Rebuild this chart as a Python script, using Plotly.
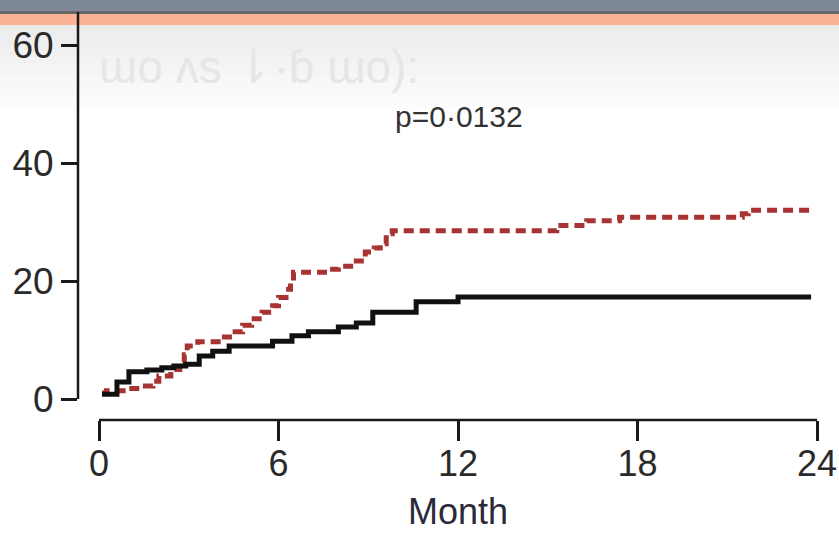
import plotly.graph_objects as go

# ---- data ----
black_month = [0.1, 0.6, 1.0, 1.6, 2.1, 2.5, 2.9, 3.35, 3.8, 4.35, 5.8, 6.45, 7.0, 8.0, 8.6, 9.15, 10.6, 12.0, 23.8]
black_pct = [0.8, 2.9, 4.6, 4.9, 5.3, 5.6, 5.9, 7.3, 8.1, 9.0, 9.8, 10.7, 11.4, 12.2, 12.9, 14.7, 16.5, 17.3, 17.3]

red_month = [0.1, 0.25, 0.9, 1.45, 1.8, 2.0, 2.4, 2.7, 2.85, 2.95, 3.3, 4.1, 4.45, 4.8, 5.1, 5.45, 5.8, 6.0,
             6.25, 6.4, 6.5, 7.7, 8.0, 8.5, 8.9, 9.2, 9.4, 9.6, 9.8, 15.3, 16.3, 17.4, 21.5, 21.7, 23.9]
red_pct = [1.0, 1.4, 1.8, 2.2, 3.0, 3.9, 5.0, 6.3, 7.5, 9.0, 9.7, 10.5, 11.4, 12.5, 13.6, 14.7, 15.8, 17.2,
           18.6, 20.0, 21.5, 22.0, 22.5, 23.4, 24.9, 25.6, 26.3, 28.0, 28.5, 29.4, 30.2, 30.8, 31.4, 32.0, 32.0]

x_ticks = [0, 6, 12, 18, 24]
y_ticks = [0, 20, 40, 60]
p_text = "p=0\u00b70132"
x_title = "Month"
ghost_text = "\u026fo \u028cs \u21c2\u00b7\u0253 \u026fo):"

W, H = 839, 536
L, R, T, B = 78, 14, 12, 116
plot_h = H - T - B


def py(p):
    return (H - B - p) / plot_h


font_fam = "Liberation Sans, Arial, sans-serif"

fig = go.Figure()
fig.add_trace(go.Scatter(x=red_month, y=red_pct, mode="lines", line_shape="hv",
                         line=dict(color="#a83333", width=5, dash="10px,6px"), hoverinfo="skip"))
fig.add_trace(go.Scatter(x=black_month, y=black_pct, mode="lines", line_shape="hv",
                         line=dict(color="#111111", width=5), hoverinfo="skip"))

shapes = []
# header gradient (light gray fading to white)
n = 14
top_px, bot_px = 25, 115
for i in range(n):
    p0 = top_px + (bot_px - top_px) * i / n
    p1 = top_px + (bot_px - top_px) * (i + 1) / n
    op = 0.9 * (1 - i / n)
    shapes.append(dict(type="rect", xref="paper", yref="paper", x0=-0.2, x1=1.2, y0=py(p1), y1=py(p0),
                       fillcolor="#e9e9e9", opacity=op, line=dict(width=0), layer="below"))
# dark top bar
shapes.append(dict(type="rect", xref="paper", yref="paper", x0=-0.2, x1=1.2, y0=py(11), y1=py(-5),
                   fillcolor="#7f8897", line=dict(width=0), layer="below"))
shapes.append(dict(type="rect", xref="paper", yref="paper", x0=-0.2, x1=1.2, y0=py(14), y1=py(11),
                   fillcolor="#66676b", line=dict(width=0), layer="below"))
# orange band
shapes.append(dict(type="rect", xref="paper", yref="paper", x0=-0.2, x1=1.2, y0=py(25), y1=py(14),
                   fillcolor="#fcb295", line=dict(width=0), layer="below"))
# y axis line
shapes.append(dict(type="line", xref="paper", yref="y", x0=0, x1=0, y0=0, y1=80,
                   line=dict(color="#1a1a1a", width=2.5)))
# x axis line
shapes.append(dict(type="line", xref="x", yref="paper", x0=0, x1=24, y0=0, y1=0,
                   line=dict(color="#1a1a1a", width=2.5)))

fig.update_layout(
    width=W, height=H,
    margin=dict(l=L, r=R, t=T, b=B, autoexpand=False),
    paper_bgcolor="white", plot_bgcolor="rgba(0,0,0,0)",
    showlegend=False,
    shapes=shapes,
    xaxis=dict(range=[-21 / 29.92, (W - R - 99) / 29.92], tickvals=x_ticks, ticktext=[str(v) for v in x_ticks],
               ticks="outside", ticklen=20, tickwidth=2.5, tickcolor="#1a1a1a", automargin=False,
               showline=False, showgrid=False, zeroline=False, ticklabelstandoff=-8,
               ticklabeloverflow="allow",
               tickfont=dict(family=font_fam, size=36, color="#2a2a2a")),
    yaxis=dict(range=[-(420 - 399) / 5.9, (399 - 12) / 5.9], tickvals=y_ticks, ticktext=[str(v) for v in y_ticks],
               ticks="outside", ticklen=16, tickwidth=2.5, tickcolor="#1a1a1a", automargin=False,
               showline=False, showgrid=False, zeroline=False, ticklabelstandoff=0,
               ticklabeloverflow="allow",
               tickfont=dict(family=font_fam, size=37, color="#2a2a2a")),
    annotations=[
        dict(text=p_text, xref="paper", yref="paper", x=(459 - L) / (W - L - R), y=py(117),
             xanchor="center", yanchor="middle", showarrow=False,
             font=dict(family=font_fam, size=30, color="#333333")),
        dict(text=x_title, xref="x", yref="paper", x=12, y=py(511),
             xanchor="center", yanchor="middle", showarrow=False,
             font=dict(family=font_fam, size=36, color="#2a2a3a")),
        dict(text=ghost_text, xref="paper", yref="paper", x=(97 - L) / (W - L - R), y=py(67),
             xanchor="left", yanchor="middle", showarrow=False,
             font=dict(family=font_fam, size=46, color="#e6e6e6")),
    ],
)

fig.write_html("out.html", config={"displayModeBar": False},
               post_script="document.body.style.margin='0px';document.body.style.overflow='hidden';")
